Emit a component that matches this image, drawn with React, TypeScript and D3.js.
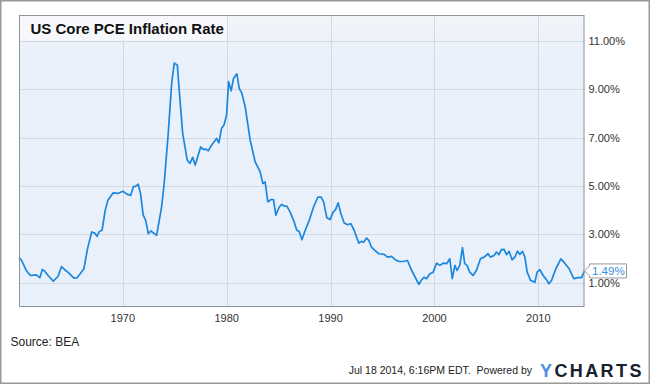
import React, { useRef, useEffect } from "react";
import * as d3 from "d3";

// decimal years and core PCE y/y rate (%)
const years = [
  1960.0, 1960.25, 1960.7, 1961.1, 1961.65, 1962.0, 1962.25, 1962.5, 1962.8, 1963.3,
  1963.75, 1964.1, 1964.4, 1964.7, 1965.3, 1965.6, 1966.25, 1966.6, 1967.0, 1967.3,
  1967.5, 1967.75, 1968.0, 1968.3, 1968.56, 1969.05, 1969.53, 1970.0, 1970.37, 1970.75,
  1971.0, 1971.26, 1971.48, 1971.71, 1971.96, 1972.2, 1972.45, 1972.7, 1973.25, 1973.73,
  1973.98, 1974.37, 1974.7, 1974.95, 1975.24, 1975.5, 1975.76, 1975.98, 1976.2, 1976.46,
  1976.72, 1976.97, 1977.49, 1977.74, 1978.0, 1978.22, 1978.55, 1979.03, 1979.25, 1979.5,
  1979.73, 1979.99, 1980.18, 1980.43, 1980.66, 1980.98, 1981.2, 1981.46, 1981.78, 1982.26,
  1982.74, 1983.22, 1983.48, 1983.7, 1983.96, 1984.28, 1984.5, 1984.73, 1985.05, 1985.31,
  1985.57, 1985.79, 1986.11, 1986.44, 1986.75, 1986.98, 1987.24, 1987.56, 1987.95, 1988.36,
  1988.78, 1989.1, 1989.33, 1989.64, 1989.96, 1990.25, 1990.48, 1990.73, 1990.99, 1991.31,
  1991.64, 1991.95, 1992.27, 1992.5, 1992.72, 1992.98, 1993.2, 1993.46, 1993.68, 1993.94,
  1994.26, 1994.65, 1995.16, 1995.48, 1995.87, 1996.25, 1996.57, 1996.99, 1997.41, 1997.73,
  1998.11, 1998.5, 1998.76, 1999.01, 1999.24, 1999.56, 1999.88, 2000.2, 2000.52, 2000.84,
  2001.17, 2001.48, 2001.72, 2001.97, 2002.18, 2002.44, 2002.7, 2002.92, 2003.14, 2003.4,
  2003.72, 2004.04, 2004.43, 2004.78, 2005.16, 2005.39, 2005.74, 2005.97, 2006.22, 2006.45,
  2006.71, 2006.94, 2007.19, 2007.48, 2007.74, 2008.0, 2008.22, 2008.48, 2008.71, 2008.93,
  2009.26, 2009.67, 2009.89, 2010.15, 2010.47, 2010.8, 2011.02, 2011.28, 2011.69, 2012.17,
  2012.55, 2012.97, 2013.42, 2013.83, 2014.16, 2014.45,
];
const rates = [
  2.04, 1.92, 1.51, 1.30, 1.33, 1.21, 1.55, 1.47, 1.30, 1.07,
  1.26, 1.67, 1.54, 1.44, 1.19, 1.21, 1.58, 2.41, 3.10, 3.05,
  2.92, 3.12, 3.17, 3.99, 4.41, 4.71, 4.69, 4.78, 4.66, 4.61,
  4.96, 4.99, 5.07, 4.66, 3.79, 3.58, 3.03, 3.14, 2.96, 4.13,
  5.10, 7.17, 9.24, 10.07, 10.0, 8.55, 7.17, 6.61, 6.06, 5.93,
  6.18, 5.86, 6.61, 6.51, 6.52, 6.45, 6.69, 6.96, 6.78, 7.38,
  7.51, 7.93, 9.31, 8.93, 9.45, 9.63, 9.03, 8.83, 8.27, 6.89,
  5.99, 5.58, 5.10, 5.17, 4.34, 4.44, 4.44, 3.79, 4.13, 4.24,
  4.16, 4.17, 3.92, 3.58, 3.17, 3.12, 2.78, 3.17, 3.58, 4.13,
  4.54, 4.54, 4.34, 3.69, 3.61, 3.92, 4.02, 4.30, 3.86, 3.47,
  3.40, 3.44, 3.17, 2.89, 2.64, 2.71, 2.68, 2.85, 2.75, 2.47,
  2.34, 2.20, 2.17, 2.06, 2.09, 1.95, 1.88, 1.88, 1.92, 1.58,
  1.26, 0.93, 1.12, 1.23, 1.17, 1.37, 1.44, 1.81, 1.72, 1.81,
  1.79, 1.99, 1.17, 1.72, 1.51, 1.72, 2.45, 1.79, 1.72, 1.44,
  1.30, 1.51, 1.99, 2.06, 2.20, 2.06, 2.13, 2.27, 2.16, 2.37,
  2.38, 2.16, 2.30, 1.95, 2.06, 2.31, 2.17, 2.30, 2.06, 1.44,
  1.10, 1.02, 1.44, 1.54, 1.30, 1.12, 0.96, 1.10, 1.58, 1.99,
  1.81, 1.58, 1.17, 1.21, 1.21, 1.49,
];
const yTicks = [1, 3, 5, 7, 9, 11];
const xTicks = [1970, 1980, 1990, 2000, 2010];

const W = 650, H = 384;
const left = 19, right = 584.5, top = 15, bottom = 307;
const FONT = "'Liberation Sans', Arial, sans-serif";

export default function App() {
  const svgRef = useRef(null);

  useEffect(() => {
    const svg = d3.select(svgRef.current);
    svg.selectAll("*").remove();

    const x = d3.scaleLinear().domain([1960, 2014.45]).range([left, right]);
    const y = d3.scaleLinear().domain([0, 12.06]).range([bottom, top]);

    svg.append("rect").attr("x", 0.75).attr("y", 0.75).attr("width", W - 1.5).attr("height", H - 1.5)
      .attr("fill", "#fff").attr("stroke", "#999").attr("stroke-width", 1.5);

    const grad = svg.append("defs").append("linearGradient")
      .attr("id", "bg").attr("x1", 0).attr("y1", 0).attr("x2", 0).attr("y2", 1);
    grad.append("stop").attr("offset", "0").attr("stop-color", "#f2f5f9");
    grad.append("stop").attr("offset", "0.12").attr("stop-color", "#ebf1fa");
    grad.append("stop").attr("offset", "1").attr("stop-color", "#e8f0fb");

    svg.append("rect").attr("x", left).attr("y", top).attr("width", right - left).attr("height", bottom - top)
      .attr("fill", "url(#bg)");

    // grid
    svg.append("g").selectAll("line").data(yTicks).enter().append("line")
      .attr("x1", left).attr("x2", right)
      .attr("y1", (d) => Math.round(y(d)) + 0.5).attr("y2", (d) => Math.round(y(d)) + 0.5)
      .attr("stroke", "#d3d9e1").attr("stroke-width", 1);
    svg.append("g").selectAll("line").data(xTicks).enter().append("line")
      .attr("y1", top).attr("y2", bottom)
      .attr("x1", (d) => Math.round(x(d)) + 0.5).attr("x2", (d) => Math.round(x(d)) + 0.5)
      .attr("stroke", "#d3d9e1").attr("stroke-width", 1);

    // title band
    svg.append("rect").attr("x", left + 0.5).attr("y", top + 0.5).attr("width", 207).attr("height", 25)
      .attr("fill", "#f6f8fb").attr("opacity", 0.9);
    svg.append("text").attr("x", 30.5).attr("y", 34.3).text("US Core PCE Inflation Rate")
      .attr("font-family", FONT).attr("font-size", 15).attr("font-weight", "bold").attr("fill", "#111");

    // line
    const pts = years.map((yr, i) => [yr, rates[i]]);
    const line = d3.line().x((d) => x(d[0])).y((d) => y(d[1]));
    svg.append("path").datum(pts).attr("d", line)
      .attr("fill", "none").attr("stroke", "#1c87dd").attr("stroke-width", 1.7)
      .attr("stroke-linejoin", "round");

    // frame
    svg.append("rect").attr("x", left + 0.5).attr("y", top + 0.5).attr("width", right - left - 1).attr("height", bottom - top - 1)
      .attr("fill", "none").attr("stroke", "#8e949b").attr("stroke-width", 1);

    // axis labels
    svg.append("g").selectAll("text").data(xTicks).enter().append("text")
      .attr("x", (d) => x(d)).attr("y", 321.5).attr("text-anchor", "middle")
      .attr("font-family", FONT).attr("font-size", 11).attr("fill", "#333").text((d) => d);
    svg.append("g").selectAll("text").data(yTicks).enter().append("text")
      .attr("x", 588.5).attr("y", (d) => y(d) + 4)
      .attr("font-family", FONT).attr("font-size", 11).attr("fill", "#333")
      .text((d) => d3.format(".2f")(d) + "%");

    // last value flag
    const last = rates[rates.length - 1];
    const ly = y(last);
    const lx = x(years[years.length - 1]);
    svg.append("path")
      .attr("d", `M${lx},${ly} L${lx + 5},${ly - 5} L${lx + 5},${ly - 7} L${626.5},${ly - 7} L${626.5},${ly + 7} L${lx + 5},${ly + 7} L${lx + 5},${ly + 5} Z`)
      .attr("fill", "#fff").attr("stroke", "#999").attr("stroke-width", 1);
    svg.append("text").attr("x", 592).attr("y", ly + 4.2).text(d3.format(".2f")(last) + "%")
      .attr("font-family", FONT).attr("font-size", 11.5).attr("fill", "#3b8fe0");

    // footer
    svg.append("text").attr("x", 10.5).attr("y", 346).text("Source: BEA")
      .attr("font-family", FONT).attr("font-size", 12).attr("fill", "#222");
    svg.append("text").attr("x", 532).attr("y", 374).attr("text-anchor", "end")
      .text("Jul 18 2014, 6:16PM EDT.  Powered by").attr("xml:space", "preserve")
      .attr("font-family", FONT).attr("font-size", 10.5).attr("fill", "#222");
    const logo = svg.append("text").attr("x", 540).attr("y", 377)
      .attr("font-family", FONT).attr("font-size", 18).attr("font-weight", "bold")
      .attr("letter-spacing", 2.4);
    logo.append("tspan").attr("fill", "#4a90e2").text("Y");
    logo.append("tspan").attr("fill", "#17202e").text("CHARTS");
  }, []);

  return (
    <div style={{ position: "absolute", left: 0, top: 0 }}>
      <svg ref={svgRef} width={W} height={H} style={{ display: "block" }}></svg>
    </div>
  );
}
